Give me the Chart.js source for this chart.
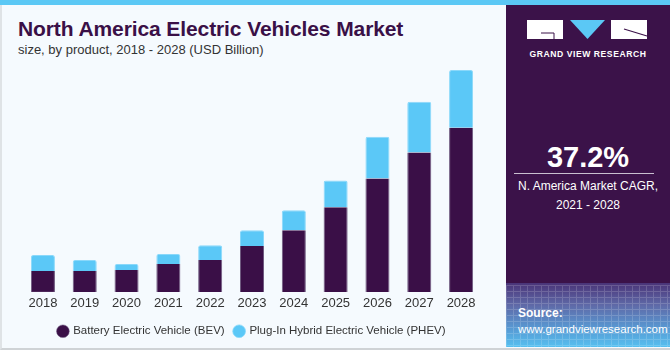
<!DOCTYPE html>
<html>
<head>
<meta charset="utf-8">
<script src="https://cdn.jsdelivr.net/npm/chart.js@4"></script>
<style>
  body { margin: 0; width: 670px; height: 350px; overflow: hidden; background: #f5fafe; font-family: "Liberation Sans", Arial, sans-serif; }
  #topbar { position: absolute; left: 0; top: 0; width: 670px; height: 5px; background: #5bc8f5; }
  #frame { position: absolute; left: 0; top: 5px; width: 668px; height: 343px; border-left: 2px solid #dfe3e6; border-bottom: 2px solid #cfd3d6; }
  #title { position: absolute; left: 18px; top: 17px; font-size: 21px; font-weight: bold; color: #3a1047; letter-spacing: -0.1px; white-space: nowrap; }
  #subtitle { position: absolute; left: 18px; top: 42px; font-size: 13px; color: #333; white-space: nowrap; }
  #chartbox { position: absolute; left: 0; top: 61px; width: 500px; height: 286px; }
  #panel { position: absolute; left: 506px; top: 5px; width: 164px; height: 342px; background: #3b1249; overflow: hidden; }
  #srcbg { position: absolute; left: 0; bottom: 0; width: 164px; height: 64px;
    background: linear-gradient(#4a3478 0%, #5f6aa8 35%, #5898d2 70%, #55c0f0 100%); }
  #srcgrid { position: absolute; left: 0; bottom: 0; width: 164px; height: 62px; opacity: 0.16;
    background-image: linear-gradient(#fff 1px, transparent 1px), linear-gradient(90deg, #fff 1px, transparent 1px);
    background-size: 7px 6px; }
  .w { position: absolute; color: #fff; white-space: nowrap; }
</style>
</head>
<body>
<div id="topbar"></div>
<div id="frame"></div>
<div id="title">North America Electric Vehicles Market</div>
<div id="subtitle">size, by product, 2018 - 2028 (USD Billion)</div>
<div id="chartbox"><canvas id="c"></canvas></div>
<div id="panel">
  <div id="srcbg"></div>
  <div id="srcgrid"></div>
  <svg style="position:absolute;left:21px;top:15px" width="122" height="20">
    <rect x="0" y="0" width="36" height="19" fill="#fff"/>
    <path d="M14 13 H27 V19" stroke="#3b1249" stroke-width="1" fill="none"/>
    <polygon points="43,0 78,0 60.5,19" fill="#5bc8f5"/>
    <rect x="84" y="0" width="36" height="19" fill="#fff"/>
    <path d="M97 9 L120 16" stroke="#3b1249" stroke-width="1.2" fill="none"/>
  </svg>
  <div class="w" style="left:21px;top:44px;width:122px;text-align:center;font-size:8.6px;font-weight:bold;letter-spacing:0.55px;">GRAND VIEW RESEARCH</div>
  <div class="w" style="left:0;top:136px;width:164px;text-align:center;font-size:29px;font-weight:bold;">37.2%</div>
  <div style="position:absolute;left:8px;top:168px;width:140px;height:1px;background:#c9bfd0;"></div>
  <div class="w" style="left:0;top:172px;width:164px;text-align:center;font-size:12px;line-height:19px;">N. America Market CAGR,<br>2021 - 2028</div>
  <div class="w" style="left:12px;top:301px;font-size:12px;font-weight:bold;">Source:</div>
  <div class="w" style="left:12px;top:318px;font-size:11.5px;">www.grandviewresearch.com</div>
</div>
<script>
const years = ['2018','2019','2020','2021','2022','2023','2024','2025','2026','2027','2028'];
const bev  = [10.5, 10.5, 11, 14, 16, 23, 31, 42.5, 57, 70, 82.5];
const phev = [8, 5.5, 3, 5, 7.5, 8, 10, 13.5, 21, 25.5, 29];

const ctx = document.getElementById('c').getContext('2d');
const chart = new Chart(ctx, {
  type: 'bar',
  data: {
    labels: years,
    datasets: [{
      label: 'Battery Electric Vehicle (BEV)',
      data: bev,
      backgroundColor: '#3a0f47',
      borderColor: '#6f5a80',
      borderWidth: {left: 1, right: 1, top: 0, bottom: 0},
      borderSkipped: false
    }, {
      label: 'Plug-In Hybrid Electric Vehicle (PHEV)',
      data: phev,
      backgroundColor: '#5bc8f7',
      borderColor: '#8ad8fa',
      borderWidth: {left: 1, right: 1, top: 1, bottom: 0},
      borderRadius: {topLeft: 2, topRight: 2},
      borderSkipped: false
    }]
  },
  options: {
    responsive: true,
    maintainAspectRatio: false,
    animation: false,
    layout: { padding: { top: 5, left: 22, right: 18, bottom: 0 } },
    scales: {
      x: {
        stacked: true,
        grid: { display: false, drawTicks: false, tickLength: 0 },
        border: { display: false },
        ticks: { color: '#333', font: { size: 13, family: 'Liberation Sans' }, padding: 4 }
      },
      y: {
        stacked: true,
        display: false,
        min: 0,
        max: 113.5
      }
    },
    datasets: { bar: { categoryPercentage: 0.575, barPercentage: 1 } },
    plugins: {
      legend: {
        position: 'bottom',
        labels: {
          usePointStyle: true,
          pointStyle: 'circle',
          boxWidth: 9,
          boxHeight: 9,
          color: '#333',
          padding: 10,
          font: { size: 11.5, family: 'Liberation Sans' }
        }
      },
      tooltip: { enabled: false }
    }
  }
});
</script>
</body>
</html>
